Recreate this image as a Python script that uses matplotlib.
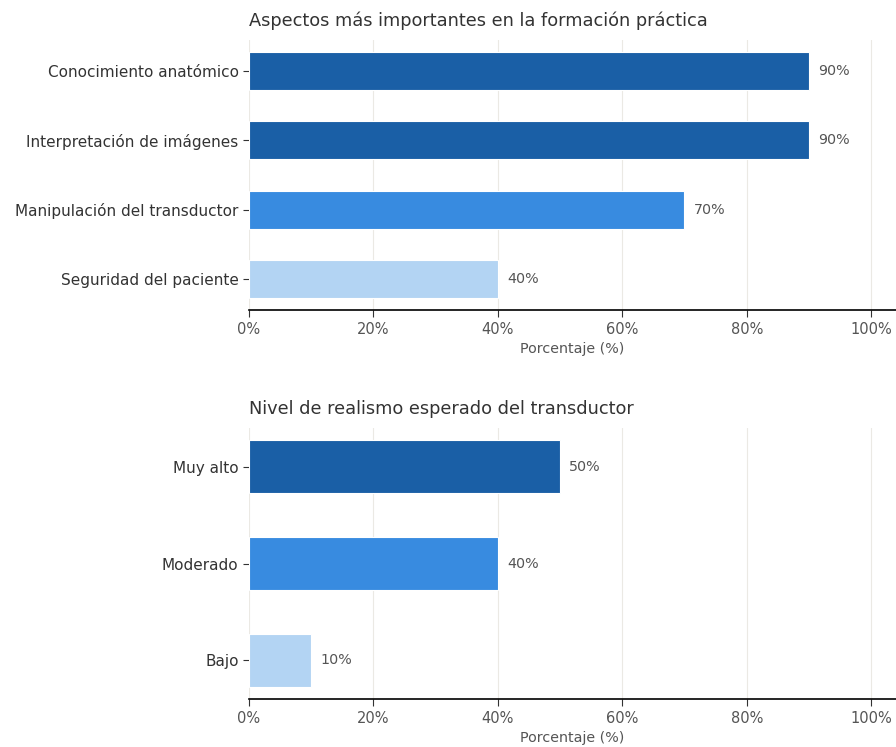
import matplotlib.pyplot as plt
from matplotlib.ticker import PercentFormatter

aspectos = ['Conocimiento anatómico', 'Interpretación de imágenes',
            'Manipulación del transductor', 'Seguridad del paciente']
aspectos_pct = [90, 90, 70, 40]
aspectos_col = ['#1a5fa6', '#1a5fa6', '#388be0', '#b3d4f3']

realismo = ['Muy alto', 'Moderado', 'Bajo']
realismo_pct = [50, 40, 10]
realismo_col = ['#1a5fa6', '#388be0', '#b3d4f3']

ticks = [0, 20, 40, 60, 80, 100]

plt.rcParams['font.family'] = 'DejaVu Sans'

fig = plt.figure(figsize=(8.96, 7.47), dpi=100)
ax1 = fig.add_axes([249/896, 1 - 310/747, 1 - 249/896, 270/747])
ax2 = fig.add_axes([249/896, 1 - 699/747, 1 - 249/896, 271/747])


def draw(ax, cats, vals, cols, title):
    pos = list(range(len(cats)))
    ax.barh(pos, vals, height=0.55, color=cols, edgecolor='white', linewidth=0.8, zorder=2)
    ax.invert_yaxis()
    ax.set_yticks(pos)
    ax.set_yticklabels(cats, fontsize=11, color='#333333')
    for p, v in zip(pos, vals):
        ax.text(v + 1.5, p, f'{v}%', va='center', ha='left', fontsize=10.3, color='#555555')
    ax.set_xlim(0, 104)
    ax.set_xticks(ticks)
    ax.xaxis.set_major_formatter(PercentFormatter(decimals=0))
    ax.tick_params(axis='x', labelsize=10.5, labelcolor='#555555', color='#333333', length=5)
    ax.tick_params(axis='y', color='#333333', length=4)
    ax.set_xlabel('Porcentaje (%)', fontsize=10.3, color='#555555', labelpad=4)
    ax.set_title(title, loc='left', fontsize=12.75, color='#333333', pad=10)
    ax.grid(axis='x', color='#ebe9e4', linewidth=0.8, zorder=0)
    ax.set_axisbelow(True)
    for s in ['top', 'right', 'left']:
        ax.spines[s].set_visible(False)
    ax.spines['bottom'].set_color('black')
    ax.spines['bottom'].set_linewidth(1.2)


draw(ax1, aspectos, aspectos_pct, aspectos_col, 'Aspectos más importantes en la formación práctica')
draw(ax2, realismo, realismo_pct, realismo_col, 'Nivel de realismo esperado del transductor')

fig.savefig('out.png', dpi=100)
